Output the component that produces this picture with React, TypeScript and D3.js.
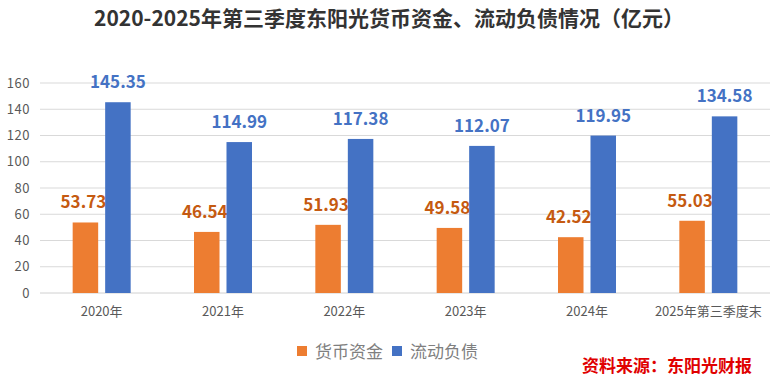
import React from "react";
import * as d3 from "d3";

const categories = ["2020年", "2021年", "2022年", "2023年", "2024年", "2025年第三季度末"];
const seriesNames = ["货币资金", "流动负债"];
const cashValues = [53.73, 46.54, 51.93, 49.58, 42.52, 55.03];
const debtValues = [145.35, 114.99, 117.38, 112.07, 119.95, 134.58];
const yTicks = [0, 20, 40, 60, 80, 100, 120, 140, 160];

const W = 780;
const H = 377;
const barColors = ["#ED7D31", "#4472C4"];
const labelColors = ["#C55A11", "#4472C4"];
const font = "'Noto Sans CJK SC', 'Noto Sans', sans-serif";

export default function App() {
  const x = d3.scaleBand<string>().domain(categories).range([41, 769]).paddingInner(0).paddingOuter(0);
  const inner = d3.scaleBand<string>().domain(seriesNames).range([-29, 29]).paddingInner(0.215);
  const y = d3.scaleLinear().domain([0, 160]).range([293, 83]);
  const series = [cashValues, debtValues];
  const fmt = (v: number) => v.toFixed(2);

  return (
    <svg width={W} height={H} style={{ position: "absolute", left: 0, top: 0, background: "#fff" }}>
      <rect x={0} y={0} width={W} height={H} fill="#fff" />
      <text x={389} y={26} textAnchor="middle" fontFamily={font} fontWeight="bold" fontSize={21} fill="#333">
        2020-2025年第三季度东阳光货币资金、流动负债情况（亿元）
      </text>
      {yTicks.map((t) => (
        <g key={t}>
          <line x1={40} x2={770} y1={y(t)} y2={y(t)} stroke={t === 0 ? "#D0D0D0" : "#D9D9D9"} strokeWidth={1} />
          <text x={30} y={y(t) + 4.5} textAnchor="end" fontFamily={font} fontSize={13} letterSpacing={0.5} fill="#595959">
            {t}
          </text>
        </g>
      ))}
      {categories.map((c, i) => {
        const cx = (x(c) ?? 0) + x.bandwidth() / 2;
        return (
          <g key={c}>
            {series.map((vals, s) => {
              const bx = cx + (inner(seriesNames[s]) ?? 0);
              const v = vals[i];
              return (
                <g key={s}>
                  <rect x={bx} y={y(v)} width={inner.bandwidth()} height={y(0) - y(v)} fill={barColors[s]} />
                  <text
                    x={bx + inner.bandwidth() / 2 + (s === 0 ? -2 : 0)}
                    y={y(v) - 14}
                    textAnchor="middle"
                    fontFamily={font}
                    fontWeight="bold"
                    fontSize={17}
                    fill={labelColors[s]}
                  >
                    {fmt(v)}
                  </text>
                </g>
              );
            })}
            <text x={cx} y={316} textAnchor="middle" fontFamily={font} fontSize={13} fill="#595959">
              {c}
            </text>
          </g>
        );
      })}
      {seriesNames.map((n, s) => {
        const lx = s === 0 ? 297 : 392;
        return (
          <g key={n}>
            <rect x={lx} y={346} width={10} height={10} fill={barColors[s]} />
            <text x={lx + 18} y={358} fontFamily={font} fontSize={17} fill="#7F7F7F">
              {n}
            </text>
          </g>
        );
      })}
      <text x={752} y={372} textAnchor="end" fontFamily={font} fontWeight="bold" fontSize={17} fill="#E00000">
        资料来源：东阳光财报
      </text>
    </svg>
  );
}
